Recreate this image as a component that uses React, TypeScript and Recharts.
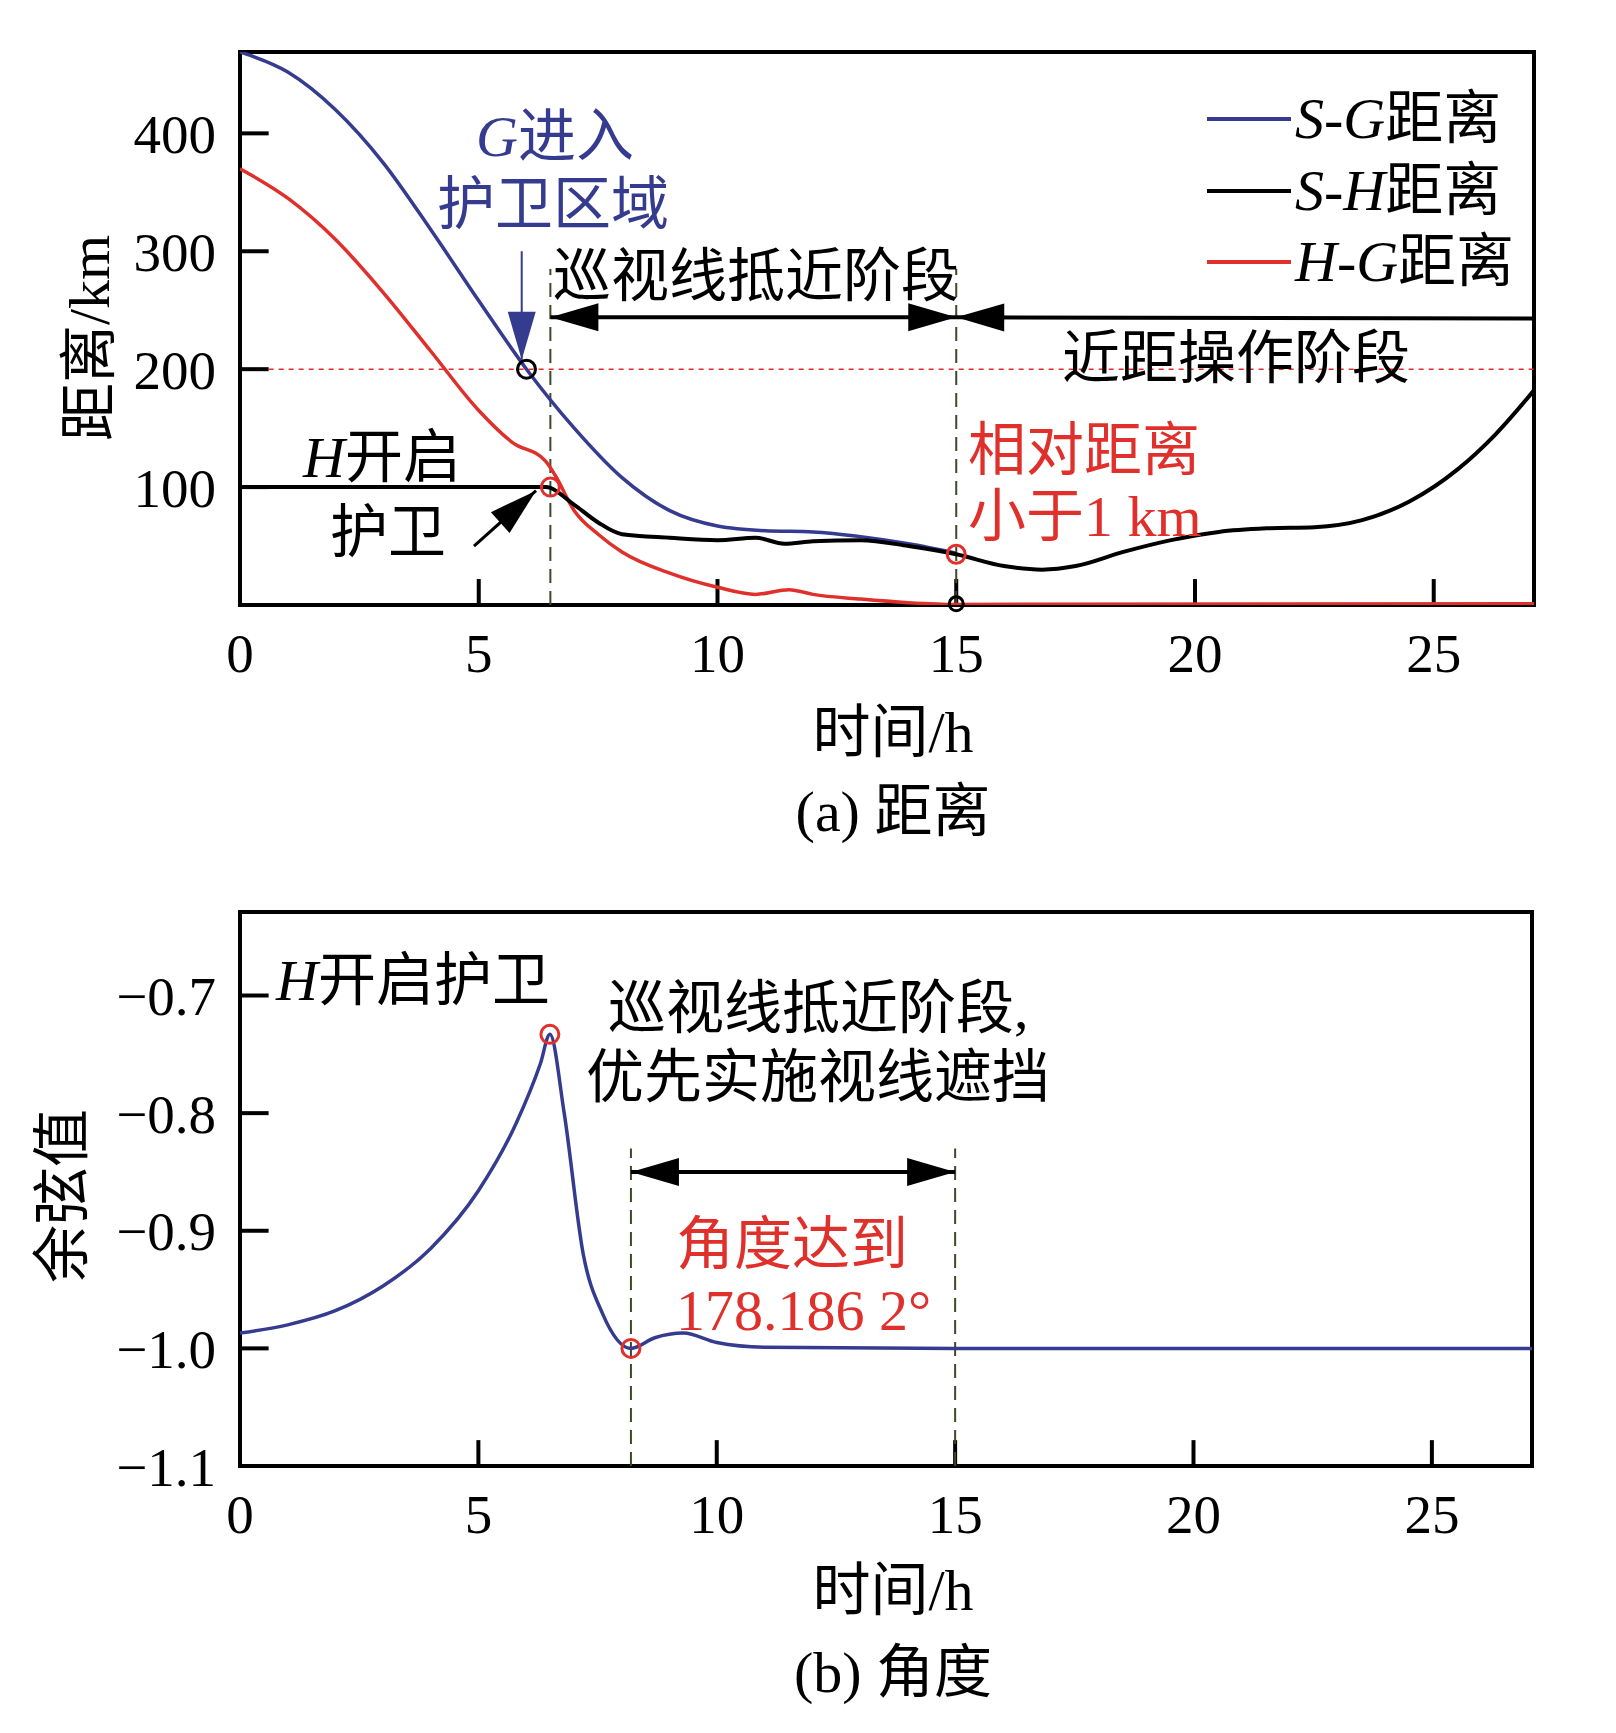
import React from 'react';
import { ComposedChart, Line, XAxis, YAxis, ReferenceLine, ReferenceDot, ReferenceArea } from 'recharts';

const sgTime = [0, 1, 2, 3, 4, 5, 6, 7, 8, 9, 10, 11, 12, 13, 14, 15];
const sgDist = [469, 452, 420, 375, 318, 258, 200, 150, 108, 80, 67, 63, 62, 58, 52, 44];
const shTime = [0, 6.4, 7, 7.5, 8, 9, 10, 10.8, 11.4, 12, 13, 14, 15, 16, 16.8, 17.5, 18.5, 19.5, 20.5, 21.5, 22.5, 23.5, 24.5, 25.5, 26.3, 27.1];
const shDist = [100, 100, 85, 70, 60, 57, 55, 57, 52, 54, 55, 50, 43, 33, 30, 33, 45, 55, 62, 65, 66, 72, 88, 115, 145, 182];
const hgTime = [0, 1, 2, 3, 4, 5, 5.7, 6.4, 6.6, 7, 7.5, 8, 9, 10, 10.8, 11.5, 12, 13, 14, 15, 27.1];
const hgDist = [370, 345, 310, 265, 215, 165, 138, 122, 110, 80, 60, 45, 27, 15, 9, 13, 9, 5, 2, 0.5, 1];
const cosTime = [0, 1, 2, 3, 4, 5, 5.8, 6.3, 6.5, 6.8, 7.2, 7.6, 8.2, 8.7, 9.3, 10, 11, 15, 27.1];
const cosVal = [-0.987, -0.98, -0.968, -0.947, -0.915, -0.866, -0.808, -0.758, -0.733, -0.8, -0.92, -0.97, -1.0, -0.991, -0.987, -0.995, -0.999, -1.0, -1.0];

const xTicks = [0, 5, 10, 15, 20, 25];
const yTicksA = [100, 200, 300, 400];
const yTicksB = [-1.1, -1.0, -0.9, -0.8, -0.7];

const zip = (xs: number[], ys: number[]) => xs.map((t, i) => ({ t, v: ys[i] }));
const sgData = zip(sgTime, sgDist);
const shData = zip(shTime, shDist);
const hgData = zip(hgTime, hgDist);
const cosData = zip(cosTime, cosVal);

const BLUE = '#353c8f';
const RED = '#e0302b';
const FONT = '"Liberation Serif", "Noto Sans CJK SC", serif';

const head = (x: number, y: number, dx: number, dy: number, color: string, key: string) => {
  const len = 48, w = 14;
  const nx = -dy, ny = dx;
  const bx = x - dx * len, by = y - dy * len;
  return <polygon key={key} points={`${x},${y} ${bx + nx * w},${by + ny * w} ${bx - nx * w},${by - ny * w}`} fill={color} />;
};

const arrow = (color: string, start: boolean, end: boolean, width = 4) => (p: any) => {
  const { x1, y1, x2, y2 } = p;
  const L = Math.hypot(x2 - x1, y2 - y1) || 1;
  const dx = (x2 - x1) / L, dy = (y2 - y1) / L;
  return (
    <g>
      <line x1={x1} y1={y1} x2={x2} y2={y2} stroke={color} strokeWidth={width} />
      {end && head(x2, y2, dx, dy, color, 'e')}
      {start && head(x1, y1, -dx, -dy, color, 's')}
    </g>
  );
};

const tickStyle = { fontSize: 55, fill: '#000', fontFamily: FONT };
const fmtB = (v: number) => v.toFixed(1).replace('-', '\u2212');

const Txt: React.FC<{ x: number; y: number; color?: string; size?: number; center?: boolean; children: React.ReactNode }> = ({ x, y, color = '#000', size = 58, center, children }) => (
  <div style={{ position: 'absolute', left: x, top: y, color, fontSize: size, lineHeight: 1, whiteSpace: 'nowrap', transform: center ? 'translateX(-50%)' : undefined }}>{children}</div>
);

const App: React.FC = () => {
  return (
    <div style={{ position: 'relative', width: 1600, height: 1720, fontFamily: FONT }}>
      {/* (a) distance */}
      <div style={{ position: 'absolute', left: 0, top: 0 }}>
        <ComposedChart width={1600} height={820} margin={{ top: 44, right: 74, bottom: 143, left: 0 }}>
          <XAxis type="number" dataKey="t" domain={[0, 27.1]} ticks={xTicks} tickLine={false} axisLine={false} tick={tickStyle} tickMargin={22} height={80} allowDataOverflow />
          <YAxis type="number" domain={[0, 469]} ticks={yTicksA} tickLine={false} axisLine={false} tick={tickStyle} width={232} tickMargin={18} allowDataOverflow />
          <ReferenceArea x1={0} x2={27.1} y1={0} y2={469} fill="none" stroke="#000" strokeWidth={4} />
          {xTicks.slice(1).map(v => <ReferenceLine key={'xa' + v} segment={[{ x: v, y: 0 }, { x: v, y: 22 }]} stroke="#000" strokeWidth={4} />)}
          {yTicksA.map(v => <ReferenceLine key={'ya' + v} segment={[{ x: 0, y: v }, { x: 0.6, y: v }]} stroke="#000" strokeWidth={4} />)}
          <ReferenceLine segment={[{ x: 0.6, y: 200 }, { x: 27.1, y: 200 }]} stroke={RED} strokeDasharray="5 5" strokeWidth={1.5} />
          <ReferenceLine segment={[{ x: 6.5, y: 0 }, { x: 6.5, y: 285 }]} stroke="#3b4a2a" strokeDasharray="14 8" strokeWidth={2} />
          <ReferenceLine segment={[{ x: 15, y: 0 }, { x: 15, y: 285 }]} stroke="#3b4a2a" strokeDasharray="14 8" strokeWidth={2} />
          <ReferenceLine segment={[{ x: 6.5, y: 244 }, { x: 15, y: 244 }]} shape={arrow('#000', true, true)} />
          <ReferenceLine segment={[{ x: 27.1, y: 243 }, { x: 15, y: 244 }]} shape={arrow('#000', false, true)} />
          <ReferenceLine segment={[{ x: 5.9, y: 300 }, { x: 5.9, y: 208 }]} shape={arrow(BLUE, false, true, 2)} />
          <ReferenceLine segment={[{ x: 4.9, y: 50 }, { x: 6.2, y: 97 }]} shape={arrow('#000', false, true, 3)} />
          <Line data={sgData} dataKey="v" type="monotone" stroke={BLUE} strokeWidth={3.5} dot={false} isAnimationActive={false} />
          <Line data={hgData} dataKey="v" type="monotone" stroke={RED} strokeWidth={3.5} dot={false} isAnimationActive={false} />
          <Line data={shData} dataKey="v" type="monotone" stroke="#000" strokeWidth={4} dot={false} isAnimationActive={false} />
          <ReferenceDot x={6} y={200} r={9} fill="none" stroke="#000" strokeWidth={3} />
          <ReferenceDot x={6.5} y={100} r={9} fill="none" stroke={RED} strokeWidth={3} />
          <ReferenceDot x={15} y={43} r={9} fill="none" stroke={RED} strokeWidth={3} />
          <ReferenceDot x={15} y={1} r={7} fill="none" stroke="#000" strokeWidth={3} />
        </ComposedChart>
      </div>
      <Txt x={468} y={100} color={BLUE}><i>G</i>进入</Txt>
      <Txt x={429} y={168} color={BLUE}>护卫区域</Txt>
      <Txt x={545} y={240}>巡视线抵近阶段</Txt>
      <Txt x={1054} y={322}>近距操作阶段</Txt>
      <Txt x={295} y={421}><i>H</i>开启</Txt>
      <Txt x={322} y={496}>护卫</Txt>
      <Txt x={960} y={414} color={RED}>相对距离</Txt>
      <Txt x={960} y={480} color={RED}>小于1 km</Txt>
      {[{ c: BLUE, a: 'S', b: 'G', y: 82 }, { c: '#000', a: 'S', b: 'H', y: 154 }, { c: RED, a: 'H', b: 'G', y: 225 }].map(e => (
        <div key={e.a + e.b} style={{ position: 'absolute', left: 1199, top: e.y, display: 'flex', alignItems: 'center', fontSize: 58, lineHeight: 1 }}>
          <div style={{ width: 84, height: 4, background: e.c, marginRight: 4 }} />
          <span><i>{e.a}</i>-<i>{e.b}</i>距离</span>
        </div>
      ))}
      <div style={{ position: 'absolute', left: 82, top: 330, fontSize: 58, lineHeight: 1, whiteSpace: 'nowrap', transform: 'translate(-50%, -50%) rotate(-90deg)' }}>距离/km</div>
      <Txt x={885} y={696} center>时间/h</Txt>
      <Txt x={885} y={775} center>(a) 距离</Txt>

      {/* (b) angle */}
      <div style={{ position: 'absolute', left: 0, top: 820 }}>
        <ComposedChart width={1600} height={880} margin={{ top: 84, right: 76, bottom: 162, left: 0 }}>
          <XAxis type="number" dataKey="t" domain={[0, 27.1]} ticks={xTicks} tickLine={false} axisLine={false} tick={tickStyle} tickMargin={22} height={80} allowDataOverflow />
          <YAxis type="number" domain={[-1.1, -0.629]} ticks={yTicksB} tickFormatter={fmtB} tickLine={false} axisLine={false} tick={tickStyle} width={232} tickMargin={18} allowDataOverflow />
          <ReferenceArea x1={0} x2={27.1} y1={-1.1} y2={-0.629} fill="none" stroke="#000" strokeWidth={4} />
          {xTicks.slice(1).map(v => <ReferenceLine key={'xb' + v} segment={[{ x: v, y: -1.1 }, { x: v, y: -1.078 }]} stroke="#000" strokeWidth={4} />)}
          {yTicksB.map(v => <ReferenceLine key={'yb' + v} segment={[{ x: 0, y: v }, { x: 0.6, y: v }]} stroke="#000" strokeWidth={4} />)}
          <ReferenceLine segment={[{ x: 8.2, y: -1.1 }, { x: 8.2, y: -0.83 }]} stroke="#3b4a2a" strokeDasharray="14 8" strokeWidth={2} />
          <ReferenceLine segment={[{ x: 15, y: -1.1 }, { x: 15, y: -0.83 }]} stroke="#3b4a2a" strokeDasharray="14 8" strokeWidth={2} />
          <ReferenceLine segment={[{ x: 8.2, y: -0.85 }, { x: 15, y: -0.85 }]} shape={arrow('#000', true, true)} />
          <Line data={cosData} dataKey="v" type="monotone" stroke={BLUE} strokeWidth={3.5} dot={false} isAnimationActive={false} />
          <ReferenceDot x={6.5} y={-0.733} r={9} fill="none" stroke={RED} strokeWidth={3} />
          <ReferenceDot x={8.2} y={-1.0} r={9} fill="none" stroke={RED} strokeWidth={3} />
        </ComposedChart>
      </div>
      <Txt x={268} y={944}><i>H</i>开启护卫</Txt>
      <Txt x={600} y={972}>巡视线抵近阶段,</Txt>
      <Txt x={578} y={1041}>优先实施视线遮挡</Txt>
      <Txt x={668} y={1208} color={RED}>角度达到</Txt>
      <Txt x={668} y={1274} color={RED}>178.186 2°</Txt>
      <div style={{ position: 'absolute', left: 55, top: 1188, fontSize: 58, lineHeight: 1, whiteSpace: 'nowrap', transform: 'translate(-50%, -50%) rotate(-90deg)' }}>余弦值</div>
      <Txt x={885} y={1554} center>时间/h</Txt>
      <Txt x={885} y={1636} center>(b) 角度</Txt>
    </div>
  );
};

export default App;
